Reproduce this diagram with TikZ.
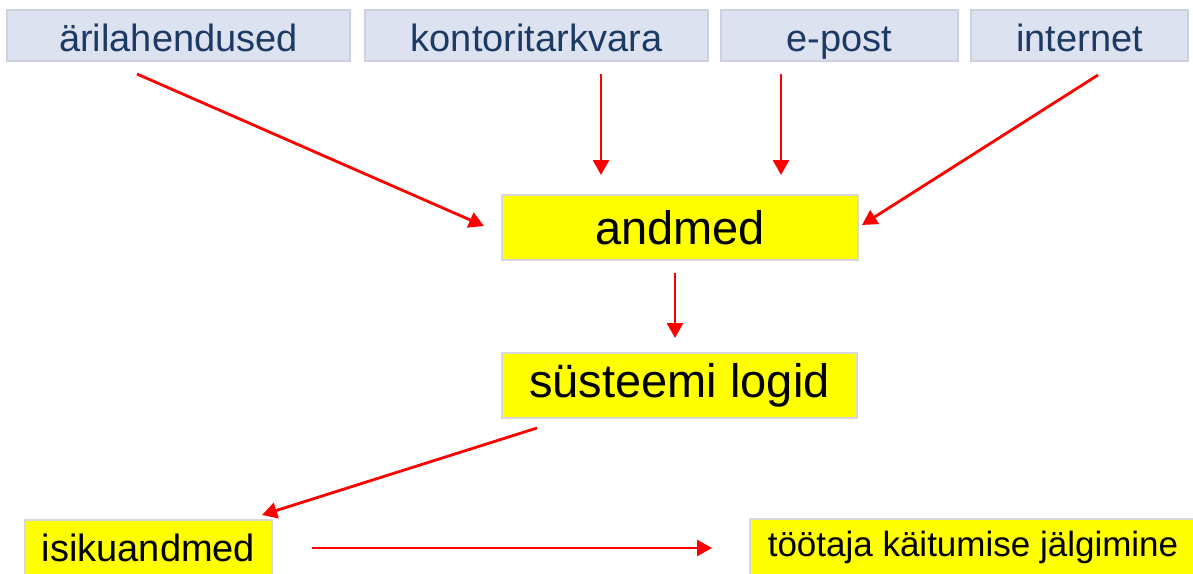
\documentclass[tikz,border=0pt]{standalone}
\usepackage{fontspec}
\setmainfont{Liberation Sans}
\usetikzlibrary{arrows.meta}
\definecolor{topfill}{RGB}{221,226,240}
\definecolor{topdraw}{RGB}{205,208,222}
\definecolor{toptext}{RGB}{28,58,100}
\definecolor{ybox}{RGB}{255,255,0}
\definecolor{ydraw}{RGB}{215,215,220}
\definecolor{arrred}{RGB}{255,0,0}
\tikzset{
  topbox/.style={draw=topdraw, line width=1.5pt, fill=topfill, text=toptext, inner sep=0pt,
    minimum height=51pt, text height=35pt, text depth=3pt, font=\fontsize{38}{40}\selectfont},
  ybx/.style={draw=ydraw, line width=1.5pt, fill=ybox, text=black, inner sep=0pt},
  conn/.style={draw=arrred, line width=2.8pt, -{Triangle[length=15pt,width=16pt]}}
}
\begin{document}
\begin{tikzpicture}[x=1pt,y=-1pt]
\useasboundingbox (0,0) rectangle (1193,573);
\node[topbox, minimum width=343pt] (ar) at (178.5,35.5) {ärilahendused};
\node[topbox, minimum width=343pt] (kont) at (536.5,35.5) {kontoritarkvara};
\node[topbox, minimum width=237pt] (ep) at (839.5,35.5) {e-post};
\node[topbox, minimum width=217pt] (net) at (1079.5,35.5) {internet};
\node[ybx, minimum width=356pt, minimum height=65pt, font=\fontsize{47}{50}\selectfont] (andmed) at (680,227.5) {andmed};
\node[ybx, minimum width=355pt, minimum height=65pt, font=\fontsize{47}{50}\selectfont] (logid) at (679.5,385.5) {süsteemi logid};
\node[ybx, minimum width=247pt, minimum height=56pt, font=\fontsize{38}{40}\selectfont] (isik) at (148.5,548) {isikuandmed};
\node[ybx, minimum width=446pt, minimum height=56pt, font=\fontsize{35}{38}\selectfont] (too) at (973,547) {töötaja käitumise jälgimine};
\coordinate (s1) at (137,74);  \coordinate (e1) at (484,226);
\coordinate (s2) at (601,74);  \coordinate (e2) at (601,175);
\coordinate (s3) at (781,74);  \coordinate (e3) at (781,175);
\coordinate (s4) at (1098,75); \coordinate (e4) at (862,225);
\coordinate (s5) at (675,273); \coordinate (e5) at (675,338);
\coordinate (s6) at (537,428); \coordinate (e6) at (262,515);
\coordinate (s7) at (312,548); \coordinate (e7) at (712,548);
\draw[conn] (s1) -- (e1);
\draw[conn] (s2) -- (e2);
\draw[conn] (s3) -- (e3);
\draw[conn] (s4) -- (e4);
\draw[conn] (s5) -- (e5);
\draw[conn] (s6) -- (e6);
\draw[conn] (s7) -- (e7);
\end{tikzpicture}
\end{document}
